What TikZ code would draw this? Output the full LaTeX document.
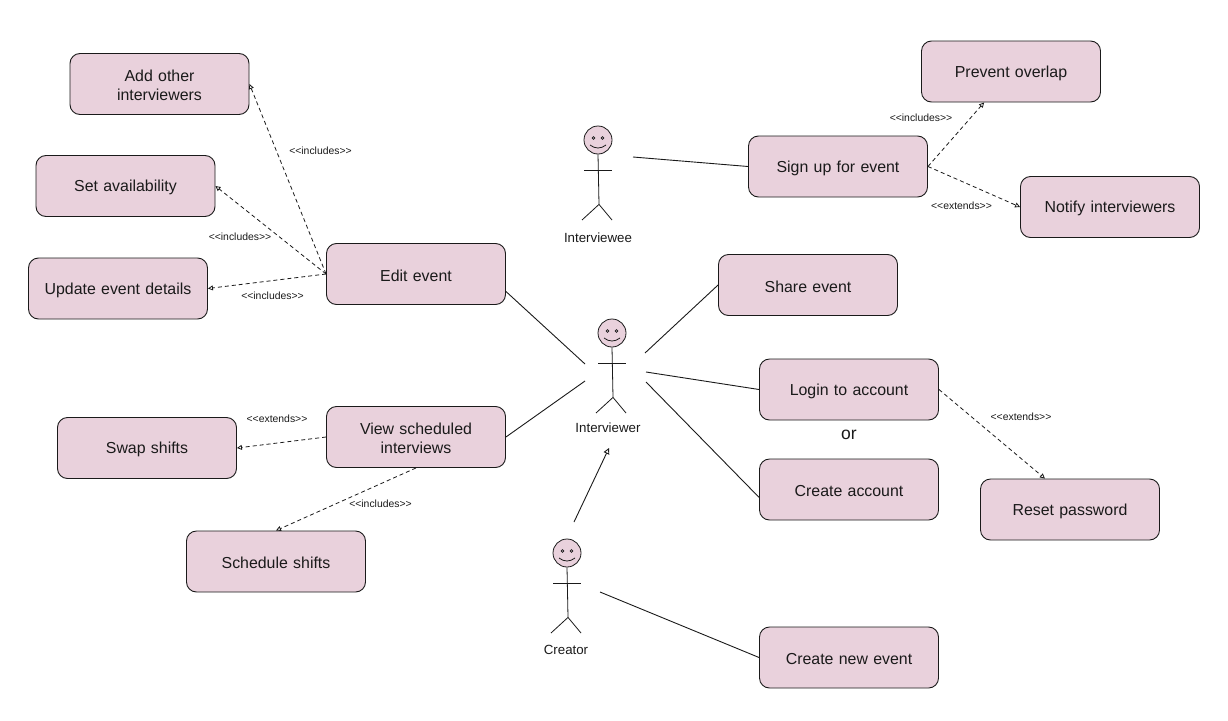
\documentclass[tikz,border=0pt]{standalone}
\usepackage{fontspec}
\setmainfont{Liberation Sans}
\usetikzlibrary{arrows.meta}
\definecolor{boxpink}{HTML}{E9D1DC}
\definecolor{ink}{HTML}{1A1A1A}
\tikzset{
  usecase/.style={draw=ink,fill=boxpink,rounded corners=10pt,line width=0.9pt,minimum width=179pt,minimum height=61pt,inner sep=2pt,align=center,text width=160pt,font=\fontsize{15.9}{19}\selectfont,text=ink,text height=14.5pt},
  assoc/.style={draw=ink,line width=0.9pt},
  dep/.style={draw=ink,line width=0.8pt,dash pattern=on 4pt off 3pt,-{Triangle[open,length=5pt,width=5pt]}},
  gen/.style={draw=ink,line width=0.9pt,-{Triangle[open,length=6pt,width=6pt]}},
  stereo/.style={font=\fontsize{10.4}{12}\selectfont,text=ink,inner sep=0pt},
  actorlabel/.style={font=\fontsize{13.3}{15}\selectfont,text=ink,inner sep=0pt},
  head/.style={draw=ink,fill=boxpink,circle,minimum size=28pt,inner sep=0pt,line width=0.8pt},
  limb/.style={draw=ink,line width=0.8pt},
  eye/.style={draw=ink,line width=0.7pt},
}
\newcommand{\stickfig}[3]{% name, head x, head y
  \node[head] (#1) at (#2,#3) {};
  \draw[eye] (#2-4.5,#3-2) circle (1.4pt) (#2+4.5,#3-2) circle (1.4pt);
  \draw[limb] (#2-8,#3+5) .. controls (#2-3,#3+9) and (#2+3,#3+9) .. (#2+8,#3+5);
  \draw[limb] (#1.south) -- ++(1,50) coordinate (#1hip);
  \draw[limb] (#2-14,#3+30) -- (#2+14,#3+30);
  \draw[limb] (#2-16,#3+80) -- (#1hip) -- (#2+14,#3+80);
}
\begin{document}
\begin{tikzpicture}[x=1pt,y=-1pt]
\useasboundingbox (0,0) rectangle (1228,720);
% use cases
\node[usecase] (add) at (159.5,84) {Add other\\interviewers};
\node[usecase] (avail) at (125.5,186) {Set availability};
\node[usecase] (update) at (118,288.5) {Update event details};
\node[usecase] (edit) at (416,274) {Edit event};
\node[usecase] (swap) at (147,448) {Swap shifts};
\node[usecase] (view) at (416,437) {View scheduled\\interviews};
\node[usecase] (sched) at (276,561.5) {Schedule shifts};
\node[usecase] (signup) at (838,166.5) {Sign up for event};
\node[usecase] (overlap) at (1011,71.5) {Prevent overlap};
\node[usecase] (notify) at (1110,207) {Notify interviewers};
\node[usecase] (share) at (808,285) {Share event};
\node[usecase] (login) at (849,389.5) {Login to account};
\node[usecase] (create) at (849,489.5) {Create account};
\node[usecase] (reset) at (1070,509.5) {Reset password};
\node[usecase] (newevent) at (849,657.5) {Create new event};
\node[font=\fontsize{17.5}{20}\selectfont,text=ink,inner sep=0pt] (or) at (849,435) {or};
% actors
\stickfig{intee}{598}{140}
\stickfig{inter}{612}{333}
\stickfig{creator}{567}{553}
\node[actorlabel] (inteelabel) at (598,238) {Interviewee};
\node[actorlabel] (interlabel) at (608,428) {Interviewer};
\node[actorlabel] (creatorlabel) at (566,650) {Creator};
% free ends beside the actors
\coordinate (a1) at (633,157);
\coordinate (b1) at (585,364);
\coordinate (b2) at (585,381);
\coordinate (b3) at (645,353);
\coordinate (b4) at (646,372);
\coordinate (b5) at (646,382);
\coordinate (b6) at (609,448);
\coordinate (c1) at (574,522);
\coordinate (c2) at (600,592);
% associations
\draw[assoc] (a1) -- (signup.west);
\draw[assoc] (edit.-11.3) -- (b1);
\draw[assoc] (view.east) -- (b2);
\draw[assoc] (b3) -- (share.west);
\draw[assoc] (b4) -- (login.west);
\draw[assoc] (b5) -- (create.185);
\draw[gen] (c1) -- (b6);
\draw[assoc] (c2) -- (newevent.west);
% dependencies
\draw[dep] (edit.west) -- (add.east);
\draw[dep] (edit.west) -- (avail.east);
\draw[dep] (edit.west) -- (update.east);
\draw[dep] (view.west) -- (swap.east);
\draw[dep] (view.south) -- (sched.north);
\draw[dep] (signup.east) -- (overlap.-131.6);
\draw[dep] (signup.east) -- (notify.west);
\draw[dep] (login.east) -- (reset.129.5);
% stereotypes
\node[stereo] (s1) at (320.5,150.5) {<{}<includes>{}>};
\node[stereo] (s2) at (240,236.5) {<{}<includes>{}>};
\node[stereo] (s3) at (272.5,296) {<{}<includes>{}>};
\node[stereo] (s4) at (277,418.5) {<{}<extends>{}>};
\node[stereo] (s5) at (380.5,503.5) {<{}<includes>{}>};
\node[stereo] (s6) at (921,118) {<{}<includes>{}>};
\node[stereo] (s7) at (961.5,206) {<{}<extends>{}>};
\node[stereo] (s8) at (1021,416.5) {<{}<extends>{}>};
\end{tikzpicture}
\end{document}
